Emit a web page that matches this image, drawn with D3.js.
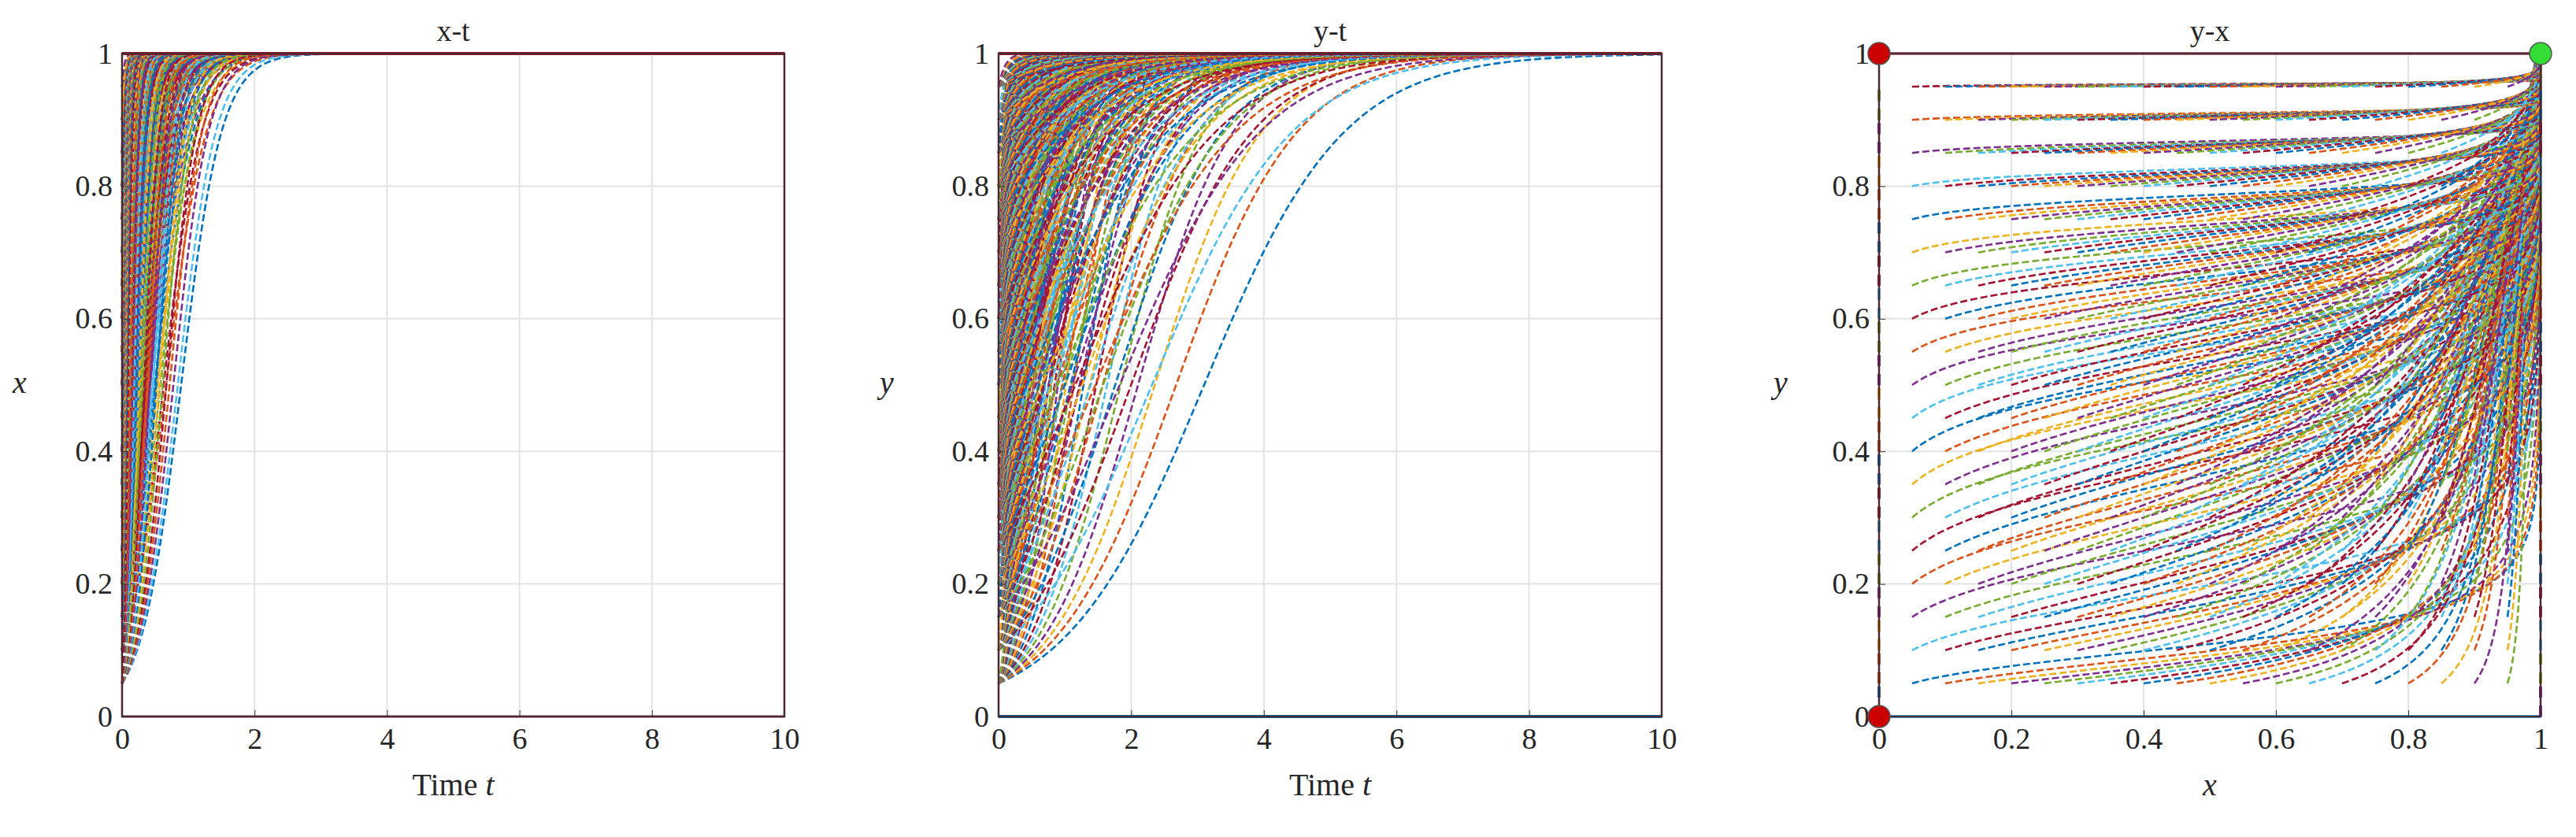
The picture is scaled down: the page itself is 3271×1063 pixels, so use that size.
<!DOCTYPE html>
<html><head><meta charset="utf-8">
<script src="https://cdn.jsdelivr.net/npm/d3@7"></script>
<style>body{margin:0;background:#fff}svg{display:block}text{font-family:"Liberation Serif","DejaVu Serif",serif;fill:#262626}</style>
</head><body>
<svg id="c" width="3271" height="1063"></svg>
<script>
// initial-condition grid
const x0Values = [0.05,0.1,0.15,0.2,0.25,0.3,0.35,0.4,0.45,0.5,0.55,0.6,0.65,0.7,0.75,0.8,0.85,0.9,0.95];
const y0Values = [0.05,0.1,0.15,0.2,0.25,0.3,0.35,0.4,0.45,0.5,0.55,0.6,0.65,0.7,0.75,0.8,0.85,0.9,0.95];
// logistic growth rates of x (per starting y0) and of y (per starting x0)
const xRates = [3.3,3.5,3.8,4.1,4.4,4.8,5.2,5.7,6.3,7,7.8,8.8,10,11.5,13.5,16,19,24,32];
const yRates = [0.95,1.1,1.25,1.4,1.6,1.8,2.0,2.3,2.6,2.9,3.3,3.7,4.2,4.8,5.5,6.3,7.3,8.6,10.5];
const timeTicks = [0,2,4,6,8,10];
const unitTicks = [0,0.2,0.4,0.6,0.8,1];
const palette = ["#0072BD","#D95319","#EDB120","#7E2F8E","#77AC30","#4DBEEE","#A2142F"];
const titles = ["x-t","y-t","y-x"];

const svg = d3.select("#c");
const panels = [
  {l:155,r:996,t:68,b:910},
  {l:1268,r:2110,t:68,b:910},
  {l:2386,r:3226,t:68,b:910}
];
const tSamples = d3.range(0,401).map(i=>10*Math.pow(i/400,2));
const logistic=(v0,r,t)=>1/(1+(1-v0)/v0*Math.exp(-r*t));

const curves=[];
let k=0;
y0Values.forEach((y0,j)=>x0Values.forEach((x0,i)=>{
  curves.push({x0,y0,a:xRates[j],b:yRates[i],c:palette[k%7]});k++;
}));

panels.forEach((p,pi)=>{
  const g=svg.append("g");
  const xs=d3.scaleLinear().domain(pi<2?[0,10]:[0,1]).range([p.l,p.r]);
  const ys=d3.scaleLinear().domain([0,1]).range([p.b,p.t]);
  const clip="clip"+pi;
  svg.append("clipPath").attr("id",clip).append("rect").attr("x",p.l-6).attr("y",p.t-6).attr("width",p.r-p.l+12).attr("height",p.b-p.t+12);
  const xt=pi<2?timeTicks:unitTicks;
  g.selectAll(".gx").data(xt).join("line").attr("x1",d=>xs(d)).attr("x2",d=>xs(d)).attr("y1",p.t).attr("y2",p.b).attr("stroke","#e3e3e3").attr("stroke-width",2);
  g.selectAll(".gy").data(unitTicks).join("line").attr("y1",d=>ys(d)).attr("y2",d=>ys(d)).attr("x1",p.l).attr("x2",p.r).attr("stroke","#e3e3e3").attr("stroke-width",2);
  const cg=g.append("g").attr("clip-path",`url(#${clip})`);
  const line=d3.line().x(d=>xs(d[0])).y(d=>ys(d[1]));
  curves.forEach(cv=>{
    let pts;
    if(pi===0) pts=tSamples.map(t=>[t,logistic(cv.x0,cv.a,t)]);
    else if(pi===1) pts=tSamples.map(t=>[t,logistic(cv.y0,cv.b,t)]);
    else pts=tSamples.map(t=>[logistic(cv.x0,cv.a,t),logistic(cv.y0,cv.b,t)]);
    cg.append("path").attr("d",line(pts)).attr("fill","none").attr("stroke",cv.c).attr("stroke-width",2.6).attr("stroke-dasharray","9,4");
  });
  if(pi===0){
    cg.append("path").attr("d",line([[0,0],[10,0]])).attr("stroke","#A2142F").attr("stroke-width",3).attr("opacity",0.6);
    cg.append("path").attr("d",line([[0,1],[10,1]])).attr("stroke","#A2142F").attr("stroke-width",4);
  } else if(pi===1){
    cg.append("path").attr("d",line([[0,0],[10,0]])).attr("stroke","#0072BD").attr("stroke-width",4);
    cg.append("path").attr("d",line([[0,1],[10,1]])).attr("stroke","#A2142F").attr("stroke-width",4);
  } else {
    cg.append("path").attr("d",line([[0,0],[1,0]])).attr("stroke","#4DBEEE").attr("stroke-width",4);
    cg.append("path").attr("d",line([[0,1],[1,1]])).attr("stroke","#A2142F").attr("stroke-width",3);
    y0Values.forEach((y0,j)=>cg.append("path").attr("d",line([[0,y0-0.05],[0,y0]])).attr("stroke",palette[j%7]).attr("stroke-width",4).attr("stroke-dasharray","14,10"));
    y0Values.forEach((y0,j)=>cg.append("path").attr("d",line([[1,y0-0.05],[1,y0]])).attr("stroke",palette[(j+3)%7]).attr("stroke-width",4).attr("stroke-dasharray","14,10"));
  }
  g.append("rect").attr("x",p.l).attr("y",p.t).attr("width",p.r-p.l).attr("height",p.b-p.t).attr("fill","none").attr("stroke","#4a2a30").attr("stroke-width",2.5);
  const ax=d3.axisBottom(xs).tickValues(xt).tickSize(-8).tickPadding(14).tickFormat(d=>d3.format("~g")(d));
  const ay=d3.axisLeft(ys).tickValues(unitTicks).tickSize(-8).tickPadding(12).tickFormat(d=>d3.format("~g")(d));
  const gx=g.append("g").attr("transform",`translate(0,${p.b})`).call(ax);
  const gy=g.append("g").attr("transform",`translate(${p.l},0)`).call(ay);
  [gx,gy].forEach(a=>{a.select(".domain").remove();a.selectAll("line").attr("stroke","#333");a.selectAll("text").attr("font-size",38).attr("font-family","Liberation Serif").attr("fill","#333");});
  g.append("text").attr("x",(p.l+p.r)/2).attr("y",p.t-16).attr("text-anchor","middle").attr("font-size",38).text(titles[pi]);
  const xl=g.append("text").attr("x",(p.l+p.r)/2).attr("y",p.b+100).attr("text-anchor","middle").attr("font-size",40);
  if(pi<2){xl.append("tspan").text("Time ");xl.append("tspan").attr("font-style","italic").text("t");}
  else xl.append("tspan").attr("font-style","italic").text("x");
  g.append("text").attr("x",p.l-(pi===0?130:pi===1?142:125)).attr("y",(p.t+p.b)/2+10).attr("text-anchor","middle").attr("font-size",40).attr("font-style","italic").text(pi===0?"x":"y");
  if(pi===2){
    [[0,0,"#CC0000"],[0,1,"#CC0000"],[1,1,"#33DD33"]].forEach(d=>g.append("circle").attr("cx",xs(d[0])).attr("cy",ys(d[1])).attr("r",14).attr("fill",d[2]).attr("stroke","#555").attr("stroke-width",1.5));
  }
});
</script>
</body></html>
